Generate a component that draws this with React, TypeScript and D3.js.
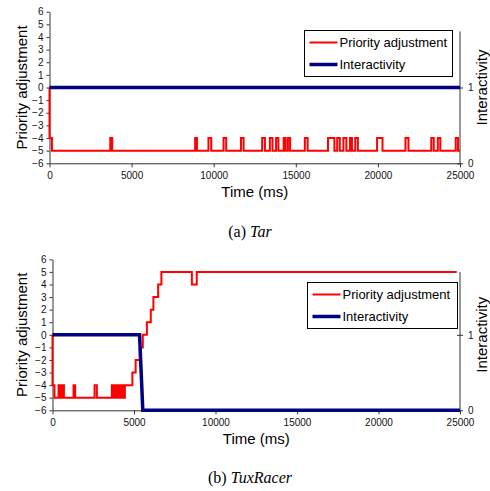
import React, { useEffect, useRef } from 'react';
import * as d3 from 'd3';

// step data: [time in ms, value]
const tarPriority: [number, number][] = [
  [0, 0], [0, -4], [150, -5], [3700, -4], [3820, -5], [8870, -4], [8980, -5],
  [9680, -4], [9850, -5], [10600, -4], [10760, -5], [11660, -4], [11820, -5],
  [12950, -4], [13120, -5], [13420, -4], [13580, -5], [13800, -4], [13940, -5],
  [14260, -4], [14380, -5], [14520, -4], [14650, -5], [15550, -4], [15720, -5],
  [16960, -4], [17350, -5], [17520, -4], [17680, -5], [17900, -4], [18080, -5],
  [18300, -4], [18420, -5], [18620, -4], [18780, -5], [19950, -4], [20280, -5],
  [21680, -4], [21860, -5], [23250, -4], [23400, -5], [23650, -4], [23800, -5],
  [24740, -4], [24880, -5], [25000, -5],
];
const tarInteractivity: [number, number][] = [[0, 1], [25000, 1]];

const tuxPriority: [number, number][] = [
  [0, 0], [0, -4], [120, -5], [370, -4], [490, -5], [580, -4], [700, -5],
  [1290, -4], [1390, -5], [2580, -4], [2720, -5], [3640, -4], [3720, -5],
  [3800, -4], [3880, -5], [3960, -4], [4040, -5], [4120, -4], [4200, -5],
  [4280, -4], [4360, -5], [4440, -4], [4900, -3], [5100, -2], [5360, -1],
  [5540, 0], [5790, 1], [6030, 2], [6190, 3], [6480, 4], [6680, 5],
  [8550, 4], [8850, 5], [24800, 5],
];
const tuxInteractivity: [number, number][] = [[0, 1], [5340, 1], [5540, 0], [25000, 0]];

const timeTicks = [0, 5000, 10000, 15000, 20000, 25000];
const priorityTicks = d3.range(-6, 7);
const interactivityTicks = [0, 1];
const legendLabels = ['Priority adjustment', 'Interactivity'];

const FONT = '"Liberation Sans", Arial, Helvetica, sans-serif';
const RED = '#ff0000';
const BLUE = '#000080';

function drawPanel(svg, cfg) {
  const g = svg.append('g');
  const x = d3.scaleLinear().domain([0, 25000]).range([cfg.left, cfg.right]);
  const y = d3.scaleLinear().domain([-6, 6]).range([cfg.bottom, cfg.top]);
  const y2 = d3.scaleLinear().domain([0, 2]).range([cfg.bottom, cfg.top]);

  // left axis
  const la = g.append('g')
    .attr('transform', 'translate(' + cfg.left + ',0)')
    .call(d3.axisLeft(y).tickValues(priorityTicks).tickSize(3).tickSizeOuter(0).tickPadding(3));
  // bottom axis
  const ba = g.append('g')
    .attr('transform', 'translate(0,' + cfg.bottom + ')')
    .call(d3.axisBottom(x).tickValues(timeTicks).tickFormat(d3.format('d')).tickSize(4).tickSizeOuter(0).tickPadding(5));
  // right axis
  const ra = g.append('g')
    .attr('transform', 'translate(' + cfg.right + ',0)')
    .call(d3.axisRight(y2).tickValues(interactivityTicks).tickFormat(d3.format('d')).tickSize(3).tickSizeOuter(0).tickPadding(5));
  ra.select('.domain').remove();
  ra.selectAll('.tick line').attr('x1', -3);
  ra.append('line')
    .attr('x1', 0).attr('x2', 0)
    .attr('y1', y2(cfg.rightTop)).attr('y2', cfg.bottom)
    .attr('stroke', '#333');

  [la, ba, ra].forEach(a => {
    a.selectAll('text').attr('font-family', FONT).attr('font-size', 10).attr('fill', '#111');
    a.selectAll('line').attr('stroke', '#333');
    a.selectAll('.domain').attr('stroke', '#333');
  });

  // series
  const stepLine = d3.line<[number, number]>()
    .x(d => x(d[0]))
    .y(d => y(d[1]))
    .curve(d3.curveStepAfter);
  g.append('path')
    .datum(cfg.priority)
    .attr('fill', 'none')
    .attr('stroke', RED)
    .attr('stroke-width', 2)
    .attr('d', stepLine);

  const blueLine = d3.line<[number, number]>()
    .x(d => x(d[0]))
    .y(d => y2(d[1]));
  g.append('path')
    .datum(cfg.interactivity)
    .attr('fill', 'none')
    .attr('stroke', BLUE)
    .attr('stroke-width', 3.5)
    .attr('d', blueLine);

  // axis titles
  const midY = (cfg.top + cfg.bottom) / 2;
  g.append('text')
    .attr('transform', 'translate(' + cfg.leftTitleX + ',' + midY + ') rotate(-90)')
    .attr('text-anchor', 'middle')
    .attr('font-family', FONT).attr('font-size', 15)
    .text('Priority adjustment');
  g.append('text')
    .attr('transform', 'translate(487,' + midY + ') rotate(-90)')
    .attr('text-anchor', 'middle')
    .attr('font-family', FONT).attr('font-size', 15)
    .text('Interactivity');
  g.append('text')
    .attr('x', (cfg.left + cfg.right) / 2)
    .attr('y', cfg.bottom + 34)
    .attr('text-anchor', 'middle')
    .attr('font-family', FONT).attr('font-size', 15)
    .text('Time (ms)');

  // legend
  const lg = g.append('g').attr('transform', 'translate(' + cfg.legend[0] + ',' + cfg.legend[1] + ')');
  lg.append('rect')
    .attr('width', cfg.legend[2]).attr('height', 46)
    .attr('fill', '#fff').attr('stroke', '#000').attr('stroke-width', 1);
  legendLabels.forEach((lab, i) => {
    const ly = 12 + i * 22;
    lg.append('line')
      .attr('x1', 5).attr('x2', 33).attr('y1', ly).attr('y2', ly)
      .attr('stroke', i === 0 ? RED : BLUE)
      .attr('stroke-width', i === 0 ? 2 : 3.5);
    lg.append('text')
      .attr('x', 35).attr('y', ly + 4.5)
      .attr('font-family', FONT).attr('font-size', 13)
      .text(lab);
  });

  // caption
  const cap = g.append('text')
    .attr('x', 250).attr('y', cfg.captionY)
    .attr('text-anchor', 'middle')
    .attr('font-family', '"Liberation Serif", "Times New Roman", serif')
    .attr('font-size', 16);
  cap.append('tspan').text(cfg.captionTag + ' ');
  cap.append('tspan').attr('font-style', 'italic').text(cfg.captionName);
}

const App = () => {
  const ref = useRef<SVGSVGElement>(null);

  useEffect(() => {
    const svg = d3.select(ref.current);
    svg.selectAll('*').remove();
    drawPanel(svg, {
      left: 49.5, right: 460, top: 11.7, bottom: 163.3, rightTop: 1.74,
      leftTitleX: 27, legend: [304.5, 30.5, 148], captionY: 237,
      priority: tarPriority, interactivity: tarInteractivity,
      captionTag: '(a)', captionName: 'Tar',
    });
    drawPanel(svg, {
      left: 52.5, right: 460, top: 259.3, bottom: 410.3, rightTop: 1.83,
      leftTitleX: 27, legend: [307.5, 282.5, 150], captionY: 483,
      priority: tuxPriority, interactivity: tuxInteractivity,
      captionTag: '(b)', captionName: 'TuxRacer',
    });
  }, []);

  return (
    <svg ref={ref} width={490} height={491}
      style={{ position: 'absolute', left: 0, top: 0, background: '#fff' }} />
  );
};

export default App;
